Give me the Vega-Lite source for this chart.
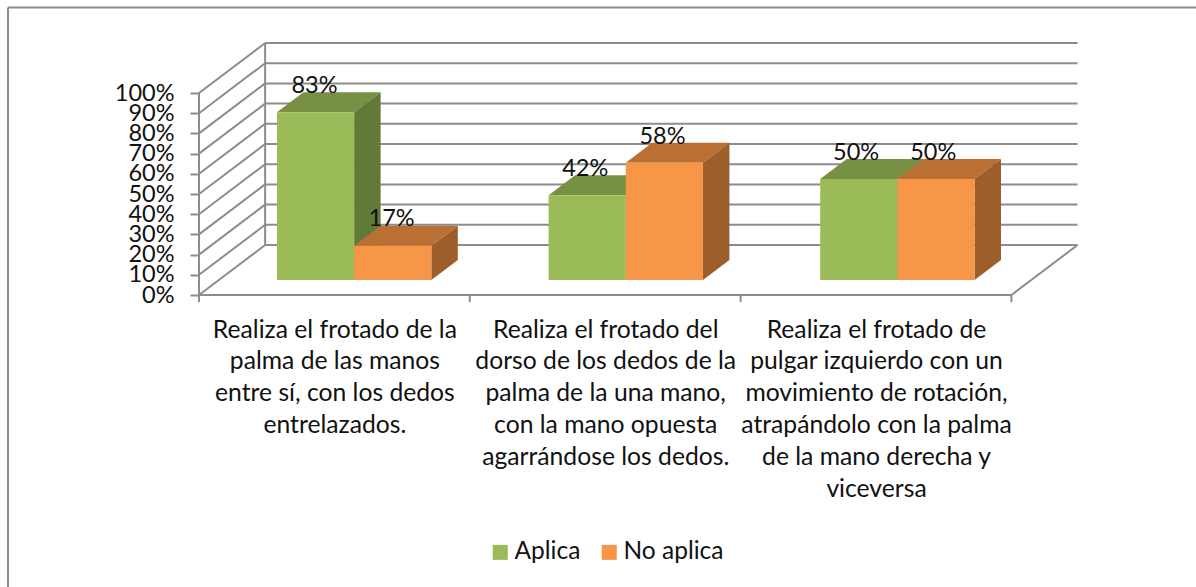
{
"$schema":"https://vega.github.io/schema/vega-lite/v6.json",
"width":1196,"height":587,
"autosize":{"type":"none"},
"padding":0,
"background":"white",
"view":{"stroke":null},
"config":{"font":"Lato","text":{"font":"Lato"}},
"datasets":{
"barras":[
{"grupo":0,"categoria":"Realiza el frotado de la palma de las manos entre sí, con los dedos entrelazados.","serie":"Aplica","valor":83},
{"grupo":0,"categoria":"Realiza el frotado de la palma de las manos entre sí, con los dedos entrelazados.","serie":"No aplica","valor":17},
{"grupo":1,"categoria":"Realiza el frotado del dorso de los dedos de la palma de la una mano, con la mano opuesta agarrándose los dedos.","serie":"Aplica","valor":42},
{"grupo":1,"categoria":"Realiza el frotado del dorso de los dedos de la palma de la una mano, con la mano opuesta agarrándose los dedos.","serie":"No aplica","valor":58},
{"grupo":2,"categoria":"Realiza el frotado de pulgar izquierdo con un movimiento de rotación, atrapándolo con la palma de la mano derecha y viceversa","serie":"Aplica","valor":50},
{"grupo":2,"categoria":"Realiza el frotado de pulgar izquierdo con un movimiento de rotación, atrapándolo con la palma de la mano derecha y viceversa","serie":"No aplica","valor":50}
],
"marcas":[{"t":0},{"t":10},{"t":20},{"t":30},{"t":40},{"t":50},{"t":60},{"t":70},{"t":80},{"t":90},{"t":100}],
"estructura":[
{"tramo":"marco superior","xa":-0.7053,"xb":3.69,"ya":142.3,"yb":142.3},
{"tramo":"marco izquierdo","xa":-0.7053,"xb":-0.7053,"ya":142.3,"yb":-145},
{"tramo":"eje frontal","xa":0,"xb":0,"ya":0,"yb":100},
{"tramo":"eje fondo","xa":0.2442,"xb":0.2442,"ya":24.75,"yb":124.75},
{"tramo":"suelo frontal","xa":0,"xb":3,"ya":0,"yb":0},
{"tramo":"suelo derecho","xa":3,"xb":3.2442,"ya":0,"yb":24.75},
{"tramo":"marca 0","xa":0,"xb":0,"ya":0,"yb":-3.5},
{"tramo":"marca 1","xa":1,"xb":1,"ya":0,"yb":-3.5},
{"tramo":"marca 2","xa":2,"xb":2,"ya":0,"yb":-3.5},
{"tramo":"marca 3","xa":3,"xb":3,"ya":0,"yb":-3.5}
]
},
"layer":[
{"data":{"name":"estructura"},
 "mark":{"type":"rule","color":"#8c8c8c","strokeWidth":2},
 "encoding":{
  "x":{"field":"xa","type":"quantitative","scale":{"domain":[-0.7349,3.6816],"nice":false,"zero":false},"title":null,
   "axis":{"values":[0.5,1.5,2.5],"orient":"bottom","offset":-292,"domain":false,"grid":false,"ticks":false,"tickSize":0,"title":null,
    "labelFont":"Lato","labelFontSize":24.7,"labelColor":"#111111","labelPadding":22,"labelLineHeight":31.8,"labelBaseline":"top","labelAlign":"center","labelLimit":0,"labelOverlap":false,"labelFlush":false,"labelBound":false,
    "labelExpr":"datum.value==0.5?['Realiza el frotado de la','palma de las manos','entre sí, con los dedos','entrelazados.']:datum.value==1.5?['Realiza el frotado del','dorso de los dedos de la','palma de la una mano,','con la mano opuesta','agarrándose los dedos.']:['Realiza el frotado de','pulgar izquierdo con un','movimiento de rotación,','atrapándolo con la palma','de la mano derecha y','viceversa']"}},
  "x2":{"field":"xb"},
  "y":{"field":"ya","type":"quantitative","scale":{"domain":[-144.55,146.04],"nice":false,"zero":false},"title":null,
   "axis":{"values":[0,10,20,30,40,50,60,70,80,90,100],"orient":"left","offset":-199,"domain":false,"grid":false,"ticks":true,"tickSize":9,"tickColor":"#8c8c8c","tickWidth":2,"title":null,
    "labelFont":"Lato","labelFontSize":23.5,"labelColor":"#111111","labelPadding":16,"labelOverlap":false,"labelFlush":false,"labelBound":false,"labelExpr":"datum.value+'%'"}},
  "y2":{"field":"yb"}
 }},
{"data":{"name":"marcas"},
 "transform":[{"calculate":"datum.t+24.75","as":"yf"},{"calculate":"0.2442","as":"xm"},{"calculate":"3.2442","as":"xf"}],
 "mark":{"type":"rule","color":"#8c8c8c","strokeWidth":2},
 "encoding":{
  "x":{"field":"xm","type":"quantitative","title":null},
  "x2":{"field":"xf"},
  "y":{"field":"yf","type":"quantitative","title":null}
 }},
{"data":{"name":"marcas"},
 "transform":[{"calculate":"datum.t+24.75","as":"yf"},{"calculate":"0","as":"xi"},{"calculate":"0.2442","as":"xm"}],
 "mark":{"type":"rule","color":"#8c8c8c","strokeWidth":2},
 "encoding":{
  "x":{"field":"xi","type":"quantitative","title":null},
  "x2":{"field":"xm"},
  "y":{"field":"t","type":"quantitative","title":null},
  "y2":{"field":"yf"}
 }},
{"data":{"name":"barras"},
 "transform":[
  {"filter":"datum.serie=='Aplica'"},
  {"calculate":"['sup','lat']","as":"cara"},{"flatten":["cara"]},
  {"calculate":"datum.grupo*1.003+0.2879","as":"x0"},
  {"calculate":"datum.valor+7.43","as":"T"},
  {"calculate":"datum.cara=='sup'?[0,0.0977,0.285,0.3827]:[0.285,0.3827]","as":"dx"},
  {"calculate":"datum.cara=='sup'?[datum.T,datum.T+9.9,datum.T+9.9,datum.T+9.9]:[datum.T,datum.T+9.9]","as":"ya"},
  {"calculate":"datum.cara=='sup'?[datum.T,datum.T,datum.T,datum.T+9.9]:[7.43,17.33]","as":"yb"},
  {"flatten":["dx","ya","yb"]},
  {"calculate":"datum.x0+datum.dx","as":"xv"},
  {"calculate":"datum.serie+' '+datum.cara","as":"tono"}
 ],
 "mark":{"type":"area","line":false,"interpolate":"linear"},
 "encoding":{
  "x":{"field":"xv","type":"quantitative","title":null},
  "y":{"field":"ya","type":"quantitative","stack":null,"title":null},
  "y2":{"field":"yb"},
  "detail":{"field":"grupo"},
  "color":{"field":"tono","type":"nominal","title":null,"scale":{"domain":["Aplica","No aplica","Aplica sup","Aplica lat","No aplica sup","No aplica lat"],"range":["#9bbb59","#f79646","#779044","#617a37","#ba7034","#9c5f2c"]},
   "legend":{"values":["Aplica","No aplica"],"title":null,"orient":"none","legendX":488,"legendY":540,"direction":"horizontal","symbolType":"square","symbolSize":225,"symbolStrokeWidth":0,"labelFont":"Lato","labelFontSize":24.5,"labelColor":"#111111","labelOffset":2,"columnPadding":16}}
 }},
{"data":{"name":"barras"},
 "transform":[
  {"filter":"datum.serie=='Aplica'"},
  {"calculate":"datum.grupo*1.003+0.2879","as":"x0"},{"calculate":"datum.x0+0.285","as":"x1"},
  {"calculate":"7.43","as":"B"},{"calculate":"datum.valor+7.43","as":"T"}
 ],
 "mark":{"type":"rect"},
 "encoding":{
  "x":{"field":"x0","type":"quantitative","title":null},
  "x2":{"field":"x1"},
  "y":{"field":"T","type":"quantitative","title":null},
  "y2":{"field":"B"},
  "color":{"field":"serie","type":"nominal","title":null}
 }},
{"data":{"name":"barras"},
 "transform":[
  {"filter":"datum.serie=='No aplica'"},
  {"calculate":"['sup','lat']","as":"cara"},{"flatten":["cara"]},
  {"calculate":"datum.grupo*1.003+0.2879+0.285","as":"x0"},
  {"calculate":"datum.valor+7.43","as":"T"},
  {"calculate":"datum.cara=='sup'?[0,0.0977,0.285,0.3827]:[0.285,0.3827]","as":"dx"},
  {"calculate":"datum.cara=='sup'?[datum.T,datum.T+9.9,datum.T+9.9,datum.T+9.9]:[datum.T,datum.T+9.9]","as":"ya"},
  {"calculate":"datum.cara=='sup'?[datum.T,datum.T,datum.T,datum.T+9.9]:[7.43,17.33]","as":"yb"},
  {"flatten":["dx","ya","yb"]},
  {"calculate":"datum.x0+datum.dx","as":"xv"},
  {"calculate":"datum.serie+' '+datum.cara","as":"tono"}
 ],
 "mark":{"type":"area","line":false,"interpolate":"linear"},
 "encoding":{
  "x":{"field":"xv","type":"quantitative","title":null},
  "y":{"field":"ya","type":"quantitative","stack":null,"title":null},
  "y2":{"field":"yb"},
  "detail":{"field":"grupo"},
  "color":{"field":"tono","type":"nominal","title":null}
 }},
{"data":{"name":"barras"},
 "transform":[
  {"filter":"datum.serie=='No aplica'"},
  {"calculate":"datum.grupo*1.003+0.2879+0.285","as":"x0"},{"calculate":"datum.x0+0.285","as":"x1"},
  {"calculate":"7.43","as":"B"},{"calculate":"datum.valor+7.43","as":"T"}
 ],
 "mark":{"type":"rect"},
 "encoding":{
  "x":{"field":"x0","type":"quantitative","title":null},
  "x2":{"field":"x1"},
  "y":{"field":"T","type":"quantitative","title":null},
  "y2":{"field":"B"},
  "color":{"field":"serie","type":"nominal","title":null}
 }},
{"data":{"name":"barras"},
 "transform":[
  {"calculate":"datum.grupo+0.2879+(datum.serie=='No aplica'?0.285:0)+0.1425-0.004","as":"xt"},
  {"calculate":"datum.valor+7.43+13","as":"yt"},
  {"calculate":"datum.valor+'%'","as":"rotulo"}
 ],
 "mark":{"type":"text","font":"Lato","fontSize":23.5,"color":"#111111","align":"center","baseline":"middle"},
 "encoding":{
  "x":{"field":"xt","type":"quantitative","title":null},
  "y":{"field":"yt","type":"quantitative","title":null},
  "text":{"field":"rotulo"}
 }}
]
}
